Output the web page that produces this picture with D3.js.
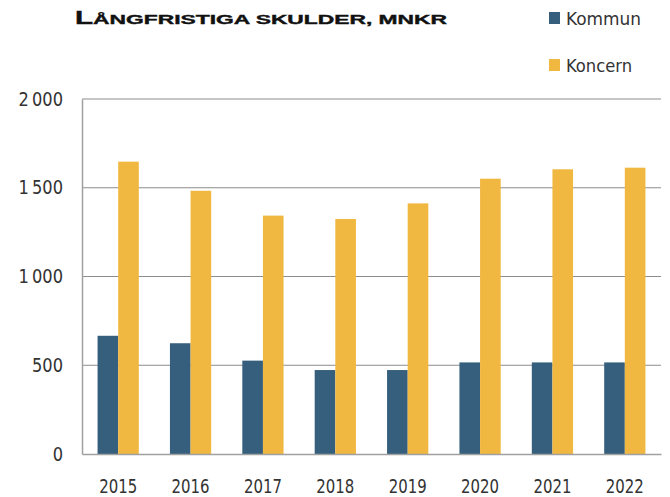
<!DOCTYPE html>
<html lang="sv">
<head>
    <meta charset="UTF-8">
    <title>Långfristiga skulder</title>
    <style>
        body { margin: 0; background: #ffffff; }
        svg { display: block; }
        .tick text { font-family: "DejaVu Sans Condensed", "DejaVu Sans", sans-serif; }
    </style>
    <script src="https://d3js.org/d3.v7.min.js"></script>
</head>
<body>
    <svg width="670" height="497"></svg>
    <script>
        const years = ["2015", "2016", "2017", "2018", "2019", "2020", "2021", "2022"];
        const kommun = [666, 624, 526, 473, 473, 516, 516, 516];
        const koncern = [1647, 1483, 1343, 1324, 1412, 1551, 1604, 1613];
        const seriesNames = ["Kommun", "Koncern"];
        const colors = ["#355f7d", "#f1b841"];
        const yTicks = [0, 500, 1000, 1500, 2000];

        const svg = d3.select("svg");
        const margin = {top: 99, right: 9, bottom: 43, left: 82};
        const width = 670 - margin.left - margin.right;
        const height = 497 - margin.top - margin.bottom;

        const g = svg.append("g").attr("transform", `translate(${margin.left},${margin.top})`);

        const x = d3.scaleBand().domain(years).range([0, width]).paddingInner(0.43).paddingOuter(0.215);
        const xs = d3.scaleBand().domain(seriesNames).range([0, x.bandwidth()]);
        const y = d3.scaleLinear().domain([0, 2000]).range([height, 0]);

        // gridlines
        g.selectAll(".grid")
            .data(yTicks.slice(1))
            .enter().append("line")
            .attr("x1", 0).attr("x2", width)
            .attr("y1", d => y(d)).attr("y2", d => y(d))
            .attr("stroke", "#8c8c8c")
            .attr("stroke-width", 1);

        const data = years.map((yr, i) => ({year: yr, values: [kommun[i], koncern[i]]}));

        const groups = g.selectAll(".yr")
            .data(data)
            .enter().append("g")
            .attr("transform", d => `translate(${x(d.year)},0)`);

        groups.selectAll("rect")
            .data(d => d.values.map((v, i) => ({name: seriesNames[i], value: v, color: colors[i]})))
            .enter().append("rect")
            .attr("x", d => xs(d.name))
            .attr("width", xs.bandwidth())
            .attr("y", d => y(d.value))
            .attr("height", d => height - y(d.value))
            .attr("fill", d => d.color);

        // squeeze text a bit, the original font is narrower
        function narrow(sel, k) {
            sel.each(function() {
                const w = this.getComputedTextLength();
                d3.select(this).attr("textLength", w * k).attr("lengthAdjust", "spacingAndGlyphs");
            });
        }

        // axes
        const fmt = d => d3.format(",")(d).replace(",", "\u2009");
        const yAxis = g.append("g")
            .call(d3.axisLeft(y).tickValues(yTicks).tickFormat(fmt).tickSize(0).tickPadding(19));
        yAxis.select(".domain").attr("stroke", "#a0a0a0").attr("stroke-width", 1.5);
        yAxis.selectAll("text").attr("font-size", 19).attr("fill", "#333").call(narrow, 0.95);

        const xAxis = g.append("g")
            .attr("transform", `translate(0,${height})`)
            .call(d3.axisBottom(x).tickSize(0));
        xAxis.select(".domain").attr("stroke", "#a0a0a0").attr("stroke-width", 1.5);
        xAxis.selectAll("text")
            .attr("font-size", 20).attr("fill", "#333")
            .attr("y", 39).attr("dy", 0)
            .call(narrow, 0.83);

        // title, wide small caps: big first letter, rest as smaller capitals
        const title = svg.append("text")
            .attr("x", 75).attr("y", 24)
            .attr("font-family", "Liberation Sans, Arial, sans-serif")
            .attr("font-weight", "bold")
            .attr("fill", "#111")
            .attr("stroke", "#111")
            .attr("stroke-width", 0.4)
            .attr("textLength", 372)
            .attr("lengthAdjust", "spacingAndGlyphs");
        title.append("tspan").attr("font-size", 17.5).text("L");
        title.append("tspan").attr("font-size", 13.5).text("ÅNGFRISTIGA SKULDER, MNKR");

        // legend
        const legendW = [75, 66];
        const legend = svg.append("g");
        seriesNames.forEach((name, i) => {
            const ly = 12 + i * 47;
            legend.append("rect")
                .attr("x", 549).attr("y", ly)
                .attr("width", 11).attr("height", 12)
                .attr("fill", colors[i]);
            legend.append("text")
                .attr("x", 566).attr("y", ly + 13)
                .attr("font-family", "DejaVu Sans Condensed, DejaVu Sans, sans-serif")
                .attr("font-size", 17)
                .attr("fill", "#333")
                .attr("textLength", legendW[i])
                .attr("lengthAdjust", "spacingAndGlyphs")
                .text(name);
        });
    </script>
</body>
</html>
